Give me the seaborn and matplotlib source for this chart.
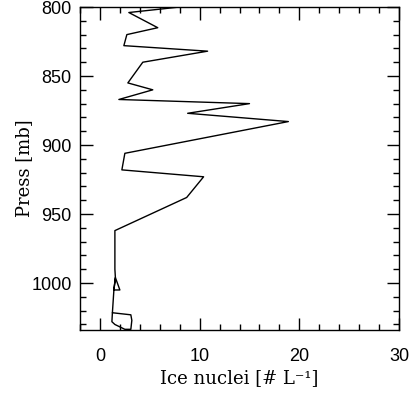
import matplotlib
matplotlib.use("Agg")
import matplotlib.pyplot as plt
import seaborn as sns
import pandas as pd
from matplotlib.ticker import MultipleLocator

ice_nuclei = [8.0, 2.9, 5.8, 2.7, 2.4, 10.8, 4.3, 2.8, 5.3, 1.9, 15.0, 8.8, 18.9,
              2.5, 2.2, 10.4, 8.7, 1.5, 1.5, 1.55, 1.4, 2.0, 1.55, 1.4, 1.25,
              3.1, 3.2, 3.1, 2.5, 1.5, 1.2, 1.25]
pressure = [800, 804, 815, 820, 828, 832, 840, 855, 860, 867, 870, 877, 883,
            906, 918, 923, 938, 962, 990, 996, 1005, 1005, 996, 1005, 1021.5,
            1023, 1027, 1033.5, 1033.5, 1030, 1028, 1021.5]

df = pd.DataFrame({"ice": ice_nuclei, "press": pressure})

sns.set_style("ticks")
fig = plt.figure(figsize=(4.09, 3.98), dpi=100)
ax = fig.add_axes([80/409, 1-330/398, 319/409, 323/398])

sns.lineplot(data=df, x="ice", y="press", sort=False, estimator=None,
             color="black", linewidth=1.0, ax=ax)

ax.set_xlim(-2, 30)
ax.set_ylim(1034, 800)
ax.xaxis.set_major_locator(MultipleLocator(10))
ax.xaxis.set_minor_locator(MultipleLocator(2))
ax.yaxis.set_major_locator(MultipleLocator(50))
ax.yaxis.set_minor_locator(MultipleLocator(10))
ax.tick_params(which="both", direction="in", top=True, right=True, width=1.0,
               color="black", labelcolor="black")
ax.tick_params(which="major", length=9, labelsize=13)
ax.tick_params(axis="x", which="major", pad=13)
ax.tick_params(axis="y", which="major", pad=6)
ax.tick_params(which="minor", length=4.5)
for lab in ax.get_xticklabels() + ax.get_yticklabels():
    lab.set_family(["Liberation Sans", "DejaVu Sans"])
for s in ax.spines.values():
    s.set_linewidth(1.0)
    s.set_color("black")

ax.set_xlabel("Ice nuclei [# L⁻¹]", family="DejaVu Serif", fontsize=13,
              labelpad=3, color="black")
ax.set_ylabel("Press [mb]", family="DejaVu Serif", fontsize=13,
              labelpad=-1, color="black")

fig.savefig("out.png", dpi=100)
